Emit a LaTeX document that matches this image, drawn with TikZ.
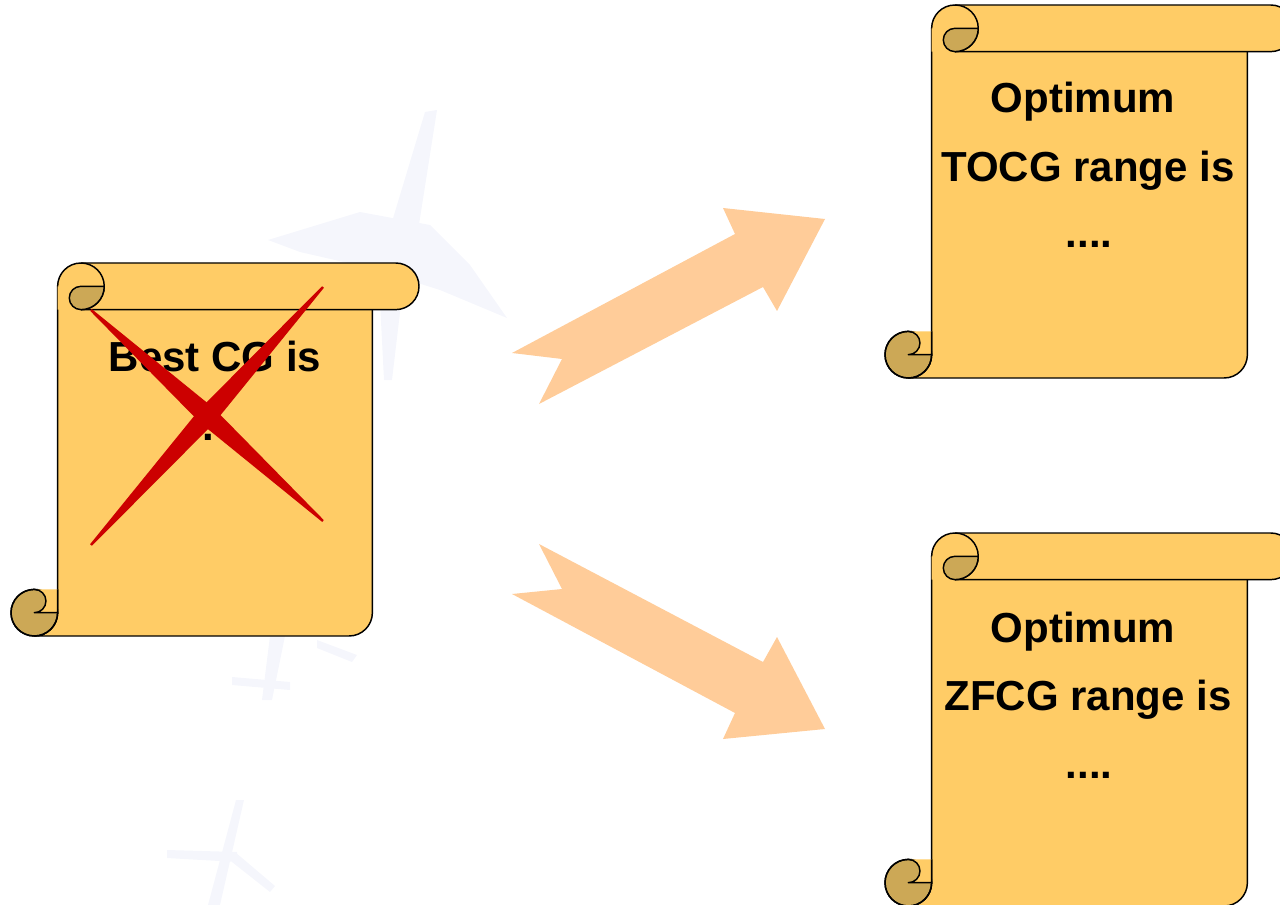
\documentclass[tikz,border=0pt]{standalone}
\usepackage{fontspec}
\setmainfont{Liberation Sans}
\definecolor{scrollfill}{RGB}{255,204,102}
\definecolor{curlfill}{RGB}{204,168,86}
\definecolor{arrowfill}{RGB}{255,204,153}
\definecolor{crossred}{RGB}{204,0,0}
\definecolor{planetint}{RGB}{245,246,252}

% Vertical scroll: #1 left, #2 top, #3 right, #4 bottom (pixel units, y downwards)
\newcommand\scrollshape[4]{%
  \pgfmathsetmacro\scL{#1}\pgfmathsetmacro\scT{#2}%
  \pgfmathsetmacro\scR{#3}\pgfmathsetmacro\scB{#4}%
  \pgfmathsetmacro\scC{0.125*(#4-#2)}%
  \pgfmathsetmacro\scH{\scC/2}\pgfmathsetmacro\scQ{\scC/4}%
  % sheet
  \filldraw[paper] (\scL+\scC,\scT+\scH) -- (\scL+\scC,\scB-\scH)
    arc[start angle=0,end angle=90,radius=\scH] -- (\scR-\scC-\scH,\scB)
    arc[start angle=90,end angle=0,radius=\scH] -- (\scR-\scC,\scT+\scH) -- cycle;
  % lower roll
  \fill[curl] (\scL+\scH,\scB-\scH) circle[radius=\scH];
  \draw[outline] (\scL+\scH,\scB-\scC) arc[start angle=-90,end angle=-360,radius=\scH];
  \fill[scrollfill] (\scL+\scH,\scB-\scC) -- (\scL+\scC,\scB-\scC) -- (\scL+\scC,\scB-\scH)
    -- (\scL+\scH,\scB-\scH) arc[start angle=90,end angle=-90,radius=\scQ] -- cycle;
  \draw[outline] (\scL+\scC,\scB-\scC) -- (\scL+\scC,\scB-\scH) -- (\scL+\scH,\scB-\scH)
    arc[start angle=90,end angle=-90,radius=\scQ];
  % upper roll
  \fill[scrollfill] (\scL+\scC,\scT+\scH) arc[start angle=180,end angle=270,radius=\scH]
    -- (\scR-\scH,\scT) arc[start angle=-90,end angle=90,radius=\scH]
    -- (\scL+\scC,\scT+\scC) -- cycle;
  \draw[outline] (\scL+\scC,\scT+\scH) arc[start angle=180,end angle=270,radius=\scH]
    -- (\scR-\scH,\scT) arc[start angle=-90,end angle=90,radius=\scH]
    -- (\scL+\scC+\scH,\scT+\scC);
  \draw[outline] (\scL+\scC+\scH,\scT) arc[start angle=-90,end angle=90,radius=\scH];
  \filldraw[curl] (\scL+2*\scC,\scT+\scH) arc[start angle=0,end angle=90,radius=\scH]
    arc[start angle=90,end angle=270,radius=\scQ] -- cycle;
}

\begin{document}
\begin{tikzpicture}[x=0.75pt,y=-0.75pt,
  outline/.style={draw=black,line width=1.1pt,line join=round},
  paper/.style={outline,fill=scrollfill},
  curl/.style={outline,fill=curlfill},
  bigarrow/.style={fill=arrowfill},
  plane/.style={fill=planetint},
  crossstroke/.style={fill=crossred},
  label/.style={font=\fontsize{31.5}{38}\selectfont\bfseries,anchor=base,inner sep=0pt}]
\useasboundingbox (0,0) rectangle (1280,905);
\clip (0,0) rectangle (1280,905);

% faint aircraft in the background
\fill[plane] (268,240) -- (360,212) -- (430,225) -- (470,265) -- (507,318)
  -- (440,290) -- (370,268) -- (300,252) -- cycle;
\fill[plane] (385,245) -- (425,112) -- (437,110) -- (415,250) -- cycle;
\fill[plane] (378,262) -- (405,270) -- (392,380) -- (384,380) -- cycle;
\fill[plane] (270,636) -- (285,636) -- (272,700) -- (262,700) -- cycle;
\fill[plane] (232,677) -- (290,682) -- (290,690) -- (232,685) -- cycle;
\fill[plane] (317,640) -- (357,655) -- (352,662) -- (317,648) -- cycle;
\fill[plane] (236,800) -- (244,800) -- (220,905) -- (208,905) -- cycle;
\fill[plane] (167,850) -- (237,852) -- (237,862) -- (167,858) -- cycle;
\fill[plane] (235,852) -- (275,886) -- (270,892) -- (232,862) -- cycle;

% scrolls
\scrollshape{11}{263}{419}{636}
\scrollshape{885}{5}{1294}{378}
\scrollshape{885}{533}{1294}{906}

\node[label] (best) at (215,371) {Best CG is};
\node[label] (bestdots) at (208,440) {.};

\node[label] (tocg1) at (1083,113) {Optimum};
\node[label] (tocg2) at (1088,182) {TOCG range is};
\node[label] (tocg3) at (1089,248) {....};

\node[label] (zfcg1) at (1083,642) {Optimum};
\node[label] (zfcg2) at (1088,710) {ZFCG range is};
\node[label] (zfcg3) at (1089,778) {....};

% red cross over the first scroll
\fill[crossstroke] (90.2,310.9) -- (200.3,422.9) -- (322.2,521.9) -- (323.8,520.1)
  -- (213.7,408.1) -- (91.8,309.1) -- cycle;
\fill[crossstroke] (91.9,545.8) -- (214.4,422.7) -- (323.9,287.8) -- (322.1,286.2)
  -- (199.6,409.3) -- (90.1,544.2) -- cycle;

% notched arrows
\fill[bigarrow] (512,353) -- (735,234) -- (723,208) -- (825,219) -- (777,311)
  -- (763,287) -- (539,404) -- (562,359) -- cycle;
\fill[bigarrow] (539,544) -- (763,662) -- (777,637) -- (825,729) -- (723,739)
  -- (735,713) -- (512,594) -- (562,589) -- cycle;
\end{tikzpicture}
\end{document}
